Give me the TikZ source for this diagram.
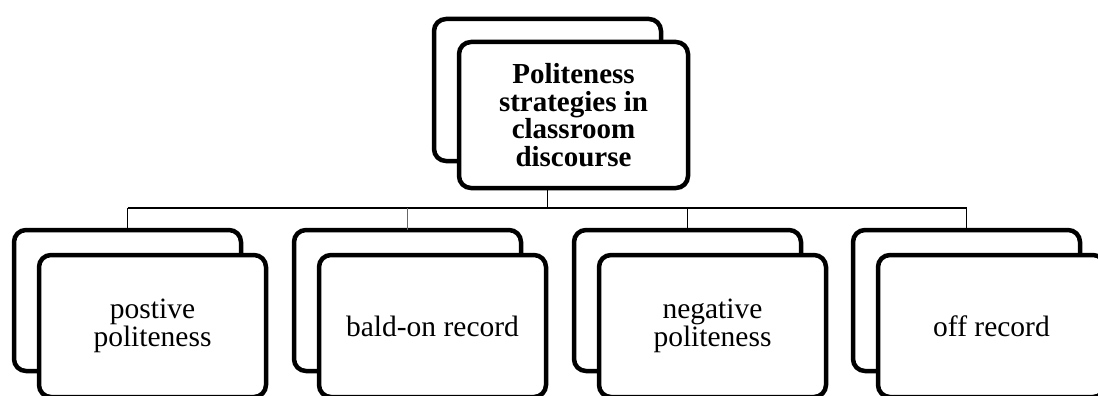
\documentclass[tikz,border=0pt]{standalone}
\usepackage{fontspec}
\setmainfont{Liberation Serif}
\begin{document}
\begin{tikzpicture}[x=1pt,y=-1pt,
  card/.style={draw=black,line width=4.5pt,rounded corners=12pt,fill=white,
    minimum width=227pt,minimum height=141pt,inner sep=0pt,outer sep=0pt},
  leaf/.style={card,align=center,font=\fontsize{29.5}{28}\selectfont},
  root/.style={card,align=center,font=\fontsize{29}{27.5}\selectfont\bfseries},
  link/.style={draw=black,line width=1.3pt},
  bluelink/.style={draw={rgb,255:red,68;green,108;blue,170},line width=1.4pt}]
\useasboundingbox (0,0) rectangle (1098,396);

% top card pair
\node[card,minimum height=142pt] (tb) at (547.5,90) {};
\node[root,minimum width=229pt,minimum height=146pt] (tf) at (573.5,115)
  {Politeness\\strategies in\\classroom\\discourse};

% bus line between the two levels
\coordinate (bus) at (547.5,208);

% four child card pairs
\node[card] (b1) at (127.5,300.5) {};
\node[leaf,minimum height=142pt] (f1) at (152.5,326) {postive\\politeness};
\node[card] (b2) at (407.5,300.5) {};
\node[leaf,minimum height=142pt] (f2) at (432.5,326) {bald-on record};
\node[card] (b3) at (687.5,300.5) {};
\node[leaf,minimum height=142pt] (f3) at (712.5,326) {negative\\politeness};
\node[card] (b4) at (966.5,300.5) {};
\node[leaf,minimum height=142pt] (f4) at (991.5,326) {off record};

% connectors
\draw[link] (tb.south |- tf.south) -- (bus);
\draw[link] (b1.north |- bus) -- (b4.north |- bus);
\draw[link] (b1.north |- bus) -- (b1.north);
\draw[bluelink] (b2.north |- bus) -- (b2.north);
\draw[link] (b3.north |- bus) -- (b3.north);
\draw[link] (b4.north |- bus) -- (b4.north);
\end{tikzpicture}
\end{document}
